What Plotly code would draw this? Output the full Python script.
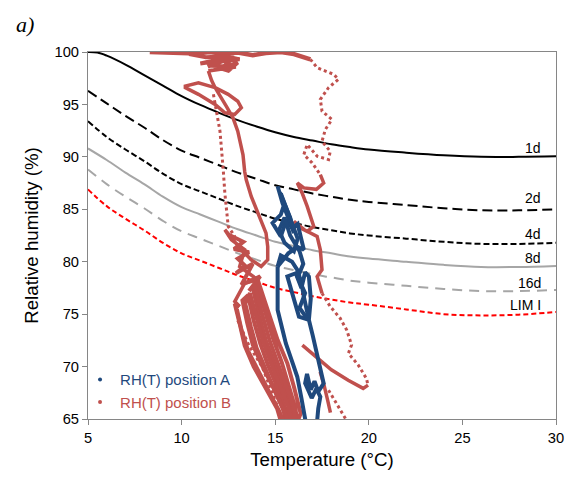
import plotly.graph_objects as go

# ---------------- isopleth curves (Temperature °C -> RH %) ----------------
iso_T = [5, 6, 7, 8, 9, 10, 11, 12, 13, 14, 15, 16, 17, 18, 19, 20, 22, 24, 26, 28, 30]
iso1d_T = [5, 5.5, 6, 7, 8, 9, 10, 11, 12, 13, 14, 15, 16, 17, 18, 19, 20, 22, 24, 26, 28, 30]
rh_1d = [100, 99.95, 99.65, 98.8, 97.8, 96.8, 95.8, 94.95, 94.2, 93.5, 92.9, 92.35, 91.9, 91.55, 91.2, 90.93, 90.7, 90.4, 90.15, 90.0, 90.0, 90.05]
rh_2d = [96.3, 95.1, 93.9, 92.8, 91.6, 90.6, 89.9, 89.2, 88.5, 87.9, 87.3, 86.9, 86.5, 86.2, 85.9, 85.7, 85.4, 85.1, 84.9, 84.9, 85.0]
rh_4d = [93.4, 91.9, 90.7, 89.6, 88.4, 87.4, 86.7, 86.0, 85.3, 84.7, 84.1, 83.7, 83.3, 83.0, 82.7, 82.5, 82.2, 81.9, 81.7, 81.7, 81.8]
rh_8d = [90.8, 89.7, 88.5, 87.4, 86.2, 85.2, 84.5, 83.8, 83.1, 82.5, 81.9, 81.5, 81.1, 80.8, 80.5, 80.3, 80.0, 79.7, 79.5, 79.5, 79.6]
rh_16d = [88.8, 87.4, 86.2, 85.1, 83.9, 82.9, 82.2, 81.5, 80.8, 80.2, 79.6, 79.2, 78.8, 78.5, 78.2, 78.0, 77.7, 77.4, 77.2, 77.2, 77.3]
rh_lim = [86.9, 85.3, 84.1, 83.0, 81.8, 80.8, 80.1, 79.4, 78.7, 78.1, 77.5, 77.1, 76.7, 76.4, 76.1, 75.9, 75.45, 75.0, 74.88, 74.95, 75.2]

iso_labels = ["1d", "2d", "4d", "8d", "16d", "LIM I"]
iso_label_rh = [90.8, 86.1, 82.6, 80.4, 78.0, 75.9]

# ---------------- RH(T) position A (blue) ----------------
a1_T = [15.13, 15.39, 15.74, 16.0, 15.8, 15.5, 15.25, 15.45, 15.3, 14.86, 15.3, 15.6, 15.9, 16.2, 16.35, 16.53,
        16.2, 15.7, 15.57, 15.13, 15.3, 15.9, 16.18, 16.4, 16.53, 16.8, 16.27, 15.92, 15.65, 16.1, 16.4, 16.6,
        16.8, 16.9, 16.8, 17.0, 17.15, 17.4, 17.59, 17.3, 17.1, 16.9, 16.7, 16.6, 16.95, 17.2, 17.41, 17.3, 17.24]
a1_RH = [87.2, 85.6, 84.0, 82.73, 84.2, 85.6, 86.6, 85.3, 84.5, 83.7, 82.41, 84.0, 83.2, 83.6, 82.4, 81.14,
         81.4, 80.8, 80.5, 79.54, 80.6, 80.0, 79.23, 78.0, 76.67, 74.45, 74.76, 77.0, 78.59, 78.9, 77.5, 79.0,
         78.59, 76.5, 74.45, 73.0, 71.9, 70.0, 68.39, 67.6, 68.6, 67.8, 69.3, 68.4, 67.0, 67.9, 67.11, 66.0, 64.8]
a2_T = [15.13, 15.13, 15.13, 15.35, 15.57, 15.9, 16.18, 16.4, 16.62]
a2_RH = [79.54, 77.0, 75.4, 73.8, 72.2, 70.5, 69.03, 67.0, 64.8]
a3_T = [15.3, 15.6, 15.9, 16.2, 16.0, 15.5, 15.2, 15.5, 15.8, 16.3, 16.5, 16.2, 16.6, 16.3, 16.7]
a3_RH = [86.5, 85.0, 83.5, 82.2, 81.0, 81.8, 83.0, 84.2, 82.5, 81.0, 79.8, 78.5, 77.0, 75.6, 74.6]

# ---------------- RH(T) position B (red) ----------------
b_band_T = [8.3, 9.2, 10.0, 10.8, 11.5, 12.3, 13.0, 13.8, 14.5, 15.3, 16.0, 16.88]
b_band_RH = [100.0, 99.95, 100.0, 99.85, 100.0, 99.8, 99.95, 99.7, 99.9, 100.0, 99.8, 99.3]
b_scrib_T = [10.4, 11.3, 12.4, 13.1, 12.2, 11.0, 12.3, 11.4, 12.8, 12.1, 13.0, 12.5, 11.6, 12.9, 11.43]
b_scrib_RH = [99.8, 99.5, 99.6, 99.3, 99.2, 98.9, 99.4, 98.6, 99.5, 98.4, 99.0, 98.2, 98.7, 98.6, 98.2]
b_main_T = [11.43, 11.6, 11.79, 12.49, 13.0, 13.19, 12.84, 12.31, 11.79, 10.9, 10.2, 10.2, 10.9, 11.79, 12.4,
            12.75, 13.0, 13.28, 13.37, 13.45, 13.72, 14.07, 14.51, 14.6, 14.6, 14.25, 13.72, 13.37, 13.19,
            12.31, 12.66, 13.37, 13.1, 14.07, 13.37, 12.84, 13.1]
b_main_RH = [98.2, 97.3, 96.6, 95.96, 95.3, 94.68, 94.04, 94.2, 95.0, 95.96, 96.6, 96.75, 97.07, 96.6, 94.8,
             93.7, 92.45, 90.2, 88.6, 87.83, 86.23, 84.65, 82.73, 81.45, 80.18, 79.54, 80.18, 80.82, 81.14,
             83.05, 82.09, 81.14, 79.54, 78.27, 77.95, 76.2, 75.72]
b_blob_T = [12.5, 13.3, 12.8, 13.6, 13.0, 13.4, 12.9, 13.8, 13.2, 14.2, 13.6]
b_blob_RH = [82.6, 81.9, 81.2, 80.9, 80.3, 79.6, 78.9, 79.8, 77.8, 78.6, 77.2]
b_bundle_T = [13.1, 12.84, 13.1, 13.37, 13.85, 14.5, 15.1, 15.3, 15.6, 15.4, 14.9, 14.3, 13.8, 13.5, 13.25,
              13.55, 13.85, 14.2, 14.6, 15.1, 15.55, 15.8, 16.0, 15.8, 15.4, 14.95, 14.5, 14.15, 13.8, 14.0,
              14.45, 14.9, 15.35, 15.7, 16.05, 16.2, 16.36, 16.0, 15.65, 15.13, 14.69, 14.42, 14.07]
b_bundle_RH = [75.72, 76.0, 74.1, 72.0, 70.0, 68.0, 66.0, 64.8, 64.8, 66.0, 68.0, 70.1, 72.1, 74.2, 76.3,
               76.8, 74.4, 72.2, 70.2, 68.1, 66.1, 64.8, 64.8, 66.2, 68.2, 70.3, 72.5, 74.8, 77.5, 78.0,
               75.2, 72.6, 70.4, 68.3, 66.2, 64.8, 65.52, 68.07, 70.31, 72.53, 74.76, 76.36, 78.27]
b_bundle2_T = [12.95, 13.2, 13.55, 14.1, 14.7, 15.2, 15.45, 15.7, 15.45, 15.0, 14.45, 14.0, 13.7, 13.4,
               13.65, 14.0, 14.35, 14.8, 15.25, 15.7, 15.9, 16.1, 15.95, 15.55, 15.15, 14.7, 14.3, 13.9]
b_bundle2_RH = [75.5, 73.5, 71.5, 69.5, 67.5, 65.8, 64.8, 64.8, 65.9, 67.6, 69.8, 71.8, 73.8, 76.0,
                77.0, 74.6, 72.4, 70.2, 68.2, 66.2, 64.8, 64.8, 66.3, 68.3, 70.3, 72.5, 75.0, 77.8]
b_dot1_T = [11.7, 12.05, 12.23, 12.31, 12.49, 12.84]
b_dot1_RH = [95.96, 92.45, 88.62, 86.55, 83.37, 82.4]
b_dot2_T = [13.0, 13.6, 14.3, 15.1, 15.3]
b_dot2_RH = [74.4, 72.0, 70.0, 66.3, 64.8]
b_rdot_T = [16.88, 17.24, 18.12, 18.38, 17.85, 17.41, 17.5, 18.03, 17.68, 17.5, 17.94, 17.85, 17.24, 16.71,
            16.53, 16.97, 17.41]
b_rdot_RH = [99.3, 98.5, 97.87, 97.39, 96.6, 95.48, 94.36, 93.57, 92.61, 91.49, 90.53, 89.74, 90.06, 91.18,
             90.22, 89.43, 88.31]
b_rsol_T = [17.41, 17.59, 17.2, 16.53, 16.18, 16.45, 16.71, 17.06, 16.71, 16.18, 16.0, 16.6, 17.24, 17.41,
            17.5, 17.24, 17.5]
b_rsol_RH = [88.31, 87.51, 86.9, 87.04, 87.51, 86.5, 85.28, 83.37, 82.89, 83.37, 83.84, 83.0, 82.41, 81.14,
             79.23, 78.59, 77.0]
b_rlow_T = [17.5, 17.94, 18.47, 18.82, 19.08, 18.91, 19.44, 19.87, 19.96]
b_rlow_RH = [77.0, 75.72, 74.61, 73.49, 72.06, 71.26, 70.14, 68.87, 68.23]
b_loop_T = [19.96, 19.7, 18.9, 18.0, 17.2, 16.45]
b_loop_RH = [68.23, 67.92, 68.7, 69.7, 70.9, 72.05]
b_tail_T = [17.85, 18.3, 18.8]
b_tail_RH = [67.75, 66.4, 64.9]
b_tail2_T = [17.4, 17.6, 17.8, 17.95]
b_tail2_RH = [69.5, 68.3, 66.8, 65.6]

BLUE = "#1F497D"
RED = "#C0504D"
GRAY = "#A6A6A6"
AXIS = "#868686"
FONT = "Liberation Sans, Arial, sans-serif"

fig = go.Figure()

iso_specs = [
    (iso1d_T, rh_1d, "black", "solid"),
    (iso_T, rh_2d, "black", "10px,5px"),
    (iso_T, rh_4d, "black", "6px,3px"),
    (iso_T, rh_8d, GRAY, "solid"),
    (iso_T, rh_16d, GRAY, "10px,7px"),
    (iso_T, rh_lim, "#FF0000", "5px,3px"),
]
for (tx, ry, col, dash), lab in zip(iso_specs, iso_labels):
    fig.add_trace(go.Scatter(x=tx, y=ry, mode="lines", name=lab, showlegend=False,
                             line=dict(color=col, width=2, dash=dash, shape="spline")))

def seg(tx, ry, color, width=3, dash="solid"):
    fig.add_trace(go.Scatter(x=tx, y=ry, mode="lines", showlegend=False, hoverinfo="skip",
                             line=dict(color=color, width=width, dash=dash)))

# position B (red)
seg(b_band_T, b_band_RH, RED, 4.5)
seg(b_scrib_T, b_scrib_RH, RED, 4)
seg(b_main_T, b_main_RH, RED, 3.5)
seg(b_blob_T, b_blob_RH, RED, 4)
seg(b_bundle_T, b_bundle_RH, RED, 4)
seg(b_bundle2_T, b_bundle2_RH, RED, 4)
seg(b_dot1_T, b_dot1_RH, RED, 3, "dot")
seg(b_dot2_T, b_dot2_RH, RED, 3, "dot")
seg(b_rdot_T, b_rdot_RH, RED, 3, "dot")
seg(b_rsol_T, b_rsol_RH, RED, 3.5)
seg(b_rlow_T, b_rlow_RH, RED, 3, "dot")
seg(b_loop_T, b_loop_RH, RED, 3.5)
seg(b_tail_T, b_tail_RH, RED, 3, "dot")
seg(b_tail2_T, b_tail2_RH, RED, 3.5)

# position A (blue)
seg(a1_T, a1_RH, BLUE, 4)
seg(a2_T, a2_RH, BLUE, 4)
seg(a3_T, a3_RH, BLUE, 4)

# legend entries
fig.add_trace(go.Scatter(x=[None], y=[None], mode="markers",
                         name='<span style="color:%s">RH(T) position A</span>' % BLUE,
                         marker=dict(color=BLUE, size=4)))
fig.add_trace(go.Scatter(x=[None], y=[None], mode="markers",
                         name='<span style="color:%s">RH(T) position B</span>' % RED,
                         marker=dict(color=RED, size=4)))

annotations = []
for lab, yv in zip(iso_labels, iso_label_rh):
    annotations.append(dict(x=29.3, y=yv, xref="x", yref="y", text=lab, showarrow=False,
                            xanchor="right", yanchor="middle",
                            font=dict(family=FONT, size=14, color="black")))
annotations.append(dict(x=-0.158, y=1.076, xref="paper", yref="paper", text="<i>a)</i>",
                        showarrow=False, xanchor="left", yanchor="middle",
                        font=dict(family="Liberation Serif, Times New Roman, serif", size=22, color="black")))

fig.update_layout(
    width=576, height=483, autosize=False,
    margin=dict(l=88, r=14, t=52, b=64),
    paper_bgcolor="white", plot_bgcolor="white",
    font=dict(family=FONT, color="black"),
    showlegend=True,
    legend=dict(x=-0.017, y=0.152, xanchor="left", yanchor="top", bgcolor="rgba(0,0,0,0)",
                font=dict(family=FONT, size=15), tracegroupgap=0, itemwidth=30),
    annotations=annotations,
    xaxis=dict(range=[5, 30], dtick=5, tick0=5, ticks="outside", ticklen=5, tickcolor=AXIS,
               showline=True, linecolor=AXIS, linewidth=1, mirror=True, showgrid=False, zeroline=False,
               tickfont=dict(family=FONT, size=14.7, color="black"),
               title=dict(text="Temperature (°C)", font=dict(family=FONT, size=18.7, color="black"), standoff=8)),
    yaxis=dict(range=[65, 100], dtick=5, tick0=65, ticks="outside", ticklen=5, tickcolor=AXIS,
               showline=True, linecolor=AXIS, linewidth=1, mirror=True, showgrid=False, zeroline=False,
               tickfont=dict(family=FONT, size=14.7, color="black"),
               title=dict(text="Relative humidity (%)", font=dict(family=FONT, size=18.7, color="black"), standoff=10)),
)

fig.write_html("out.html")
